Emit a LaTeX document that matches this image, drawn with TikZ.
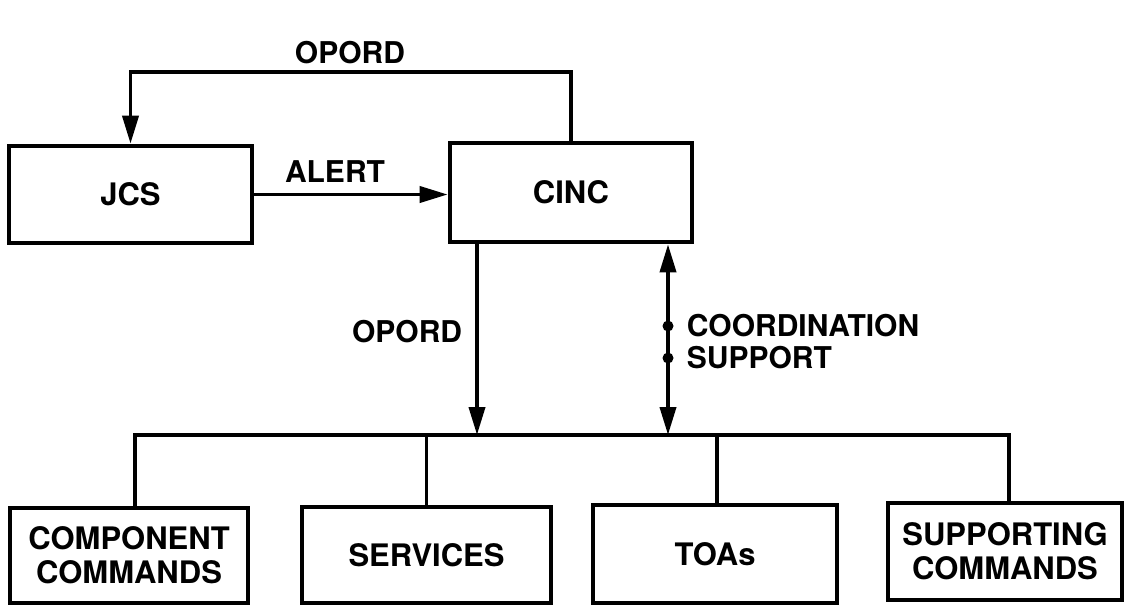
\documentclass[tikz,border=0pt]{standalone}
\usepackage{fontspec}
\setmainfont{TeX Gyre Heros}
\usetikzlibrary{arrows.meta, positioning}

\begin{document}
\begin{tikzpicture}[x=0.5pt, y=-0.5pt, line width=1.9pt, >={Triangle[length=14pt,width=8pt]},
  box/.style={draw, line width=2.3pt, inner sep=0pt, align=center, font=\fontsize{15.5}{17}\selectfont\bfseries},
  tag/.style={inner sep=0pt, align=left, font=\fontsize{15}{16}\selectfont\bfseries},
  dot/.style={circle, fill, inner sep=0pt, minimum size=5.5pt}]
  \useasboundingbox (0,0) rectangle (1124,607);
  % top row
  \node[box, minimum width=121.5pt, minimum height=48.5pt] (jcs) at (130.5,194.5) {JCS};
  \node[box, minimum width=121pt, minimum height=49.5pt] (cinc) at (571,192.5) {CINC};
  % bottom row
  \node[box, minimum width=119pt, minimum height=47.5pt] (comp) at (129,555.5) {COMPONENT\\COMMANDS};
  \node[box, minimum width=124.5pt, minimum height=48pt] (serv) at (426.5,555) {SERVICES};
  \node[box, minimum width=122pt, minimum height=49pt] (toa) at (715,554) {TOAs};
  \node[box, minimum width=117pt, minimum height=48.5pt] (supp) at (1005,551.5) {SUPPORTING\\COMMANDS};
  \coordinate (top) at (350,72);
  \coordinate (bus) at (560,435);
  % JCS <-> CINC
  \draw[->] (cinc.north) |- (top) -| (jcs.north);
  \node[tag, above=3pt of top] (opord1) {OPORD};
  \draw[->] (jcs.east) -- (jcs.east -| cinc.west) node[tag, midway, above=5pt, xshift=-8pt] (alert) {ALERT};
  % CINC down to the bus
  \draw[->] ([xshift=-47pt]cinc.south) coordinate (od) -- (od |- bus);
  \node[tag, anchor=east] (opord2) at (464,332) {OPORD};
  \draw[<->] ([xshift=48.5pt]cinc.south) coordinate (cs) -- (cs |- bus);
  \node[dot] (d1) at (cs |- 0,326) {};
  \node[dot] (d2) at (cs |- 0,358) {};
  \node[tag, anchor=west] (coord) at (685,326) {COORDINATION};
  \node[tag, anchor=west] (supt) at (685,358) {SUPPORT};
  % bus
  \draw ([xshift=3pt]comp.north) |- (bus) -| ([xshift=2pt]supp.north);
  \draw (serv.north) -- (serv.north |- bus);
  \draw ([xshift=1pt]toa.north) -- ([xshift=1pt]toa.north |- bus);
\end{tikzpicture}
\end{document}
